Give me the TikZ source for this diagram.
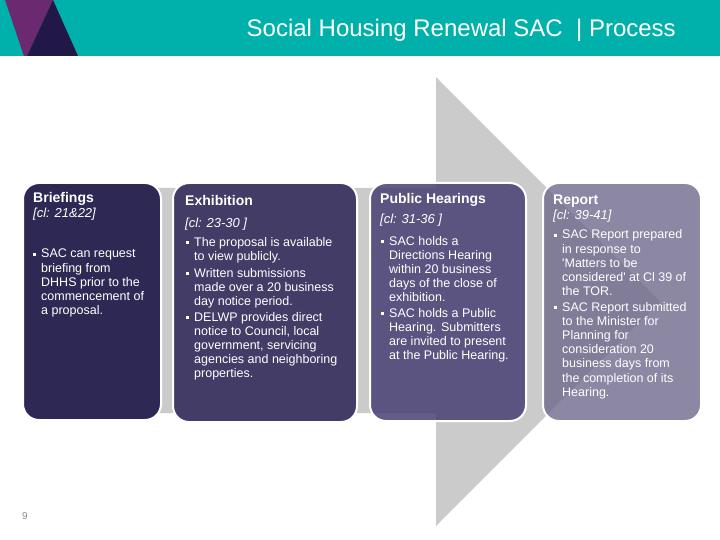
\documentclass[tikz,border=0pt]{standalone}
\usepackage{fontspec}
\setmainfont{Liberation Sans}
\definecolor{hdrteal}{RGB}{0,176,170}
\definecolor{logopurple}{RGB}{107,42,112}
\definecolor{logonavy}{RGB}{33,24,72}
\definecolor{chevgray}{RGB}{203,203,203}
\definecolor{briefcol}{RGB}{46,41,84}
\definecolor{exhibcol}{RGB}{66,60,102}
\definecolor{phcol}{RGB}{72,64,115}
\definecolor{repcol}{RGB}{111,105,140}
\definecolor{pagegray}{RGB}{140,140,140}
\newcommand\sqb{\makebox[8pt][l]{\raisebox{2.3pt}{\rule{3.2pt}{3.2pt}}}}
\newcommand\bul[1]{\sqb\begin{tabular}[t]{@{}l@{}}#1\end{tabular}}
\tikzset{
  stagebox/.style={draw=white, line width=2pt, rounded corners=16pt, anchor=north west, inner sep=0pt},
  ttl/.style={anchor=base west, inner sep=0pt, text=white, font=\fontsize{14}{16}\selectfont\bfseries},
  cref/.style={anchor=base west, inner sep=0pt, text=white, font=\fontsize{13}{15}\selectfont\itshape},
  body/.style={anchor=base west, inner sep=0pt, text=white, font=\fontsize{12.5}{14.2}\selectfont}
}
\begin{document}
\begin{tikzpicture}[x=1pt,y=-1pt]
\useasboundingbox (0,0) rectangle (720,540);
% header
\fill[hdrteal] (0,0) rectangle (720,56);
\fill[logopurple] (5,0) -- (53,0) -- (27,56) -- (24,56) -- cycle;
\fill[logonavy] (53,0) -- (78,56) -- (27,56) -- cycle;
\node[anchor=base east, inner sep=0pt, text=white, font=\fontsize{24}{27}\selectfont] (title) at (676,37) {Social Housing Renewal SAC \ | Process};
% chevron
\fill[chevgray] (30,188) -- (436,188) -- (436,77) -- (660,301.5) -- (436,526) -- (436,413) -- (30,413) -- cycle;
% boxes
\node[stagebox, fill=briefcol, minimum width=138pt, minimum height=237pt] (brief) at (22,182) {};
\node[stagebox, fill=exhibcol, minimum width=184pt, minimum height=239pt] (exhib) at (172,182) {};
\node[stagebox, fill=phcol, fill opacity=0.85, minimum width=156pt, minimum height=238pt] (ph) at (369,182) {};
\node[stagebox, fill=repcol, fill opacity=0.8, minimum width=158pt, minimum height=238pt] (rep) at (542,182) {};
% Briefings text
\node[ttl] (t1) at (33,203) {Briefings};
\node[cref] (c1) at (33,218) {[cl: 21\&22]};
\node[body] (b1a) at (33,258) {\bul{SAC can request\\briefing from\\DHHS prior to the\\commencement of\\a proposal.}};
% Exhibition text
\node[ttl] (t2) at (185,206) {Exhibition};
\node[cref] (c2) at (185,227) {[cl: 23-30 ]};
\node[body] (b2a) at (186,246) {\bul{The proposal is available\\to view publicly.}};
\node[body] (b2b) at (186,277) {\bul{Written submissions\\made over a 20 business\\day notice period.}};
\node[body] (b2c) at (186,321) {\bul{DELWP provides direct\\notice to Council, local\\government, servicing\\agencies and neighboring\\properties.}};
% Public Hearings text
\node[ttl] (t3) at (380,204) {Public Hearings};
\node[cref] (c3) at (380,224) {[cl: 31-36 ]};
\node[body] (b3a) at (381,245) {\bul{SAC holds a\\Directions Hearing\\within 20 business\\days of the close of\\exhibition.}};
\node[body] (b3b) at (381,317) {\bul{SAC holds a Public\\Hearing. Submitters\\are invited to present\\at the Public Hearing.}};
% Report text
\node[ttl] (t4) at (553,205) {Report};
\node[cref] (c4) at (553,220) {[cl: 39-41]};
\node[body] (b4a) at (554,239) {\bul{SAC Report prepared\\in response to\\\textquotesingle Matters to be\\considered\textquotesingle\ at Cl 39 of\\the TOR.}};
\node[body] (b4b) at (554,311) {\bul{SAC Report submitted\\to the Minister for\\Planning for\\consideration 20\\business days from\\the completion of its\\Hearing.}};
% page number
\node[anchor=base west, inner sep=0pt, text=pagegray, font=\fontsize{10}{12}\selectfont] (pg) at (22,519) {9};
\end{tikzpicture}
\end{document}
